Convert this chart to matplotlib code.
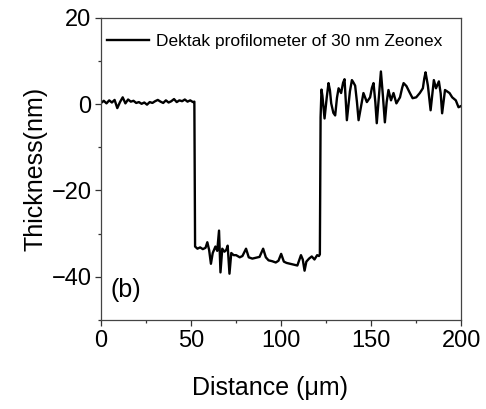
import matplotlib

matplotlib.use("Agg")
import matplotlib.pyplot as plt
from matplotlib.ticker import MultipleLocator

plt.rcParams["font.family"] = ["Liberation Sans", "DejaVu Sans"]

# Dektak step profile across the Zeonex film edge
distance_um = [
    0, 1.5, 3, 4.5, 6, 7.5, 9, 10.5, 12, 13.5, 15, 16.5, 18, 19.5, 21, 22.5, 24,
    25.5, 27, 28.5, 30, 31.5, 33, 34.5, 36, 37.5, 39, 40.5, 42, 43.5, 45, 46.5,
    48, 49.5, 51, 51.8,
    52.2, 53.5, 55, 56.5, 58, 59, 60, 61, 62, 63.5, 64.5, 65.5, 66.3, 67.3,
    68.5, 69.5, 70.3, 71.3, 72.3, 73.6, 75, 77, 78.5, 80.5, 82, 84, 86, 88, 90,
    91.5, 93, 95, 97, 98.5, 100, 101.5, 103, 105, 107, 109, 111, 112, 113, 114,
    115.5, 117, 118.5, 120, 121, 121.5,
    121.9, 122.4, 122.9, 124.1, 125.3, 126.3, 127.1, 127.8, 129, 130, 131, 131.9,
    133.3, 134.4, 135.2, 136.5, 138.2, 139.3, 140.2, 141.1, 142.1, 143, 144.4,
    145.7, 147.6, 149.4, 150.4, 151.3, 152.3, 153.1, 154.3, 155.4, 156.5,
    157.6, 158.6, 159.6, 161, 162.4, 164, 166, 167.2, 168, 169.6, 171.5, 173,
    175, 177, 178.7, 179.5, 180.2, 181.5, 183, 184.8, 186, 187.6, 188.6, 189.4,
    191, 193.5, 195, 197, 198.5, 200,
]
thickness_nm = [
    0.3, 0.8, 0.2, 0.9, 0.4, 1.0, -0.9, 0.5, 1.6, 0.2, 1.1, 0.6, 0.8, 0.3, 0.5,
    0.1, 0.4, -0.1, 0.5, 0.3, 0.7, 1.0, 0.6, 0.3, 0.9, 0.4, 0.7, 1.2, 0.5, 0.9,
    0.7, 1.1, 0.6, 0.9, 0.5, 0.6,
    -33.0, -33.5, -33.2, -33.6, -33.3, -32.0, -33.8, -37.0, -34.5, -33.0,
    -34.0, -29.3, -39.0, -33.5, -34.2, -33.8, -32.8, -39.3, -34.5, -35.0,
    -35.0, -35.5, -35.2, -33.5, -35.5, -35.8, -35.6, -35.4, -33.5, -35.5,
    -36.2, -36.4, -36.7, -36.3, -34.7, -36.5, -36.8, -37.0, -37.2, -37.4,
    -35.0, -36.0, -38.6, -36.5, -35.8, -35.3, -36.0, -35.0, -35.2, -34.8,
    -3.0, 3.4, 2.0, -3.3, 1.5, 4.9, 3.2, 0.2, -2.0, -2.6, 1.5, 3.7,
    2.6, 5.0, 5.8, -3.7, 3.0, 5.6, 5.0, 4.3, 0.5, -3.7, -0.5,
    2.6, 0.5, 1.6, 3.8, 4.9, 0.5, -4.4, 2.0, 7.6, 2.0,
    -4.2, 0.5, 3.3, 0.9, 2.6, 0.2, 1.6, 3.8, 4.9, 4.2, 2.6, 1.4,
    1.6, 2.6, 3.7, 6.0, 7.4, 4.3, -1.4, 5.6, 3.7, 5.3, 2.5, -2.1,
    3.3, 2.6, 1.6, 0.9, -0.7, -0.4,
]

fig = plt.figure(figsize=(4.86, 4.09), dpi=100)
ax = fig.add_axes([0.208, 0.218, 0.741, 0.738])

ax.plot(distance_um, thickness_nm, color="black", linewidth=1.7,
        solid_joinstyle="round", label="Dektak profilometer of 30 nm Zeonex")

ax.set_xlim(0, 200)
ax.set_ylim(-50, 20)
ax.xaxis.set_major_locator(MultipleLocator(50))
ax.xaxis.set_minor_locator(MultipleLocator(25))
ax.yaxis.set_major_locator(MultipleLocator(20))
ax.yaxis.set_minor_locator(MultipleLocator(10))
ax.tick_params(which="major", direction="out", length=4, width=0.9,
               labelsize=17, color="#333333", pad=3)
ax.tick_params(which="minor", direction="out", length=2.2, width=0.9,
               color="#333333")
for spine in ax.spines.values():
    spine.set_color("#444444")
    spine.set_linewidth(0.9)

ax.set_xlabel("Distance (μm)", fontsize=18)
ax.xaxis.set_label_coords(0.47, -0.185)
ax.set_ylabel("Thickness(nm)", fontsize=18, labelpad=3)

ax.text(0.027, 0.1, "(b)", transform=ax.transAxes, fontsize=18,
        ha="left", va="center")

ax.legend(loc="upper left", bbox_to_anchor=(0.0, 0.968), frameon=False,
          fontsize=12.5, handlelength=2.4, handletextpad=0.4,
          borderaxespad=0.15, borderpad=0.2)

fig.savefig("out.png", dpi=100)
